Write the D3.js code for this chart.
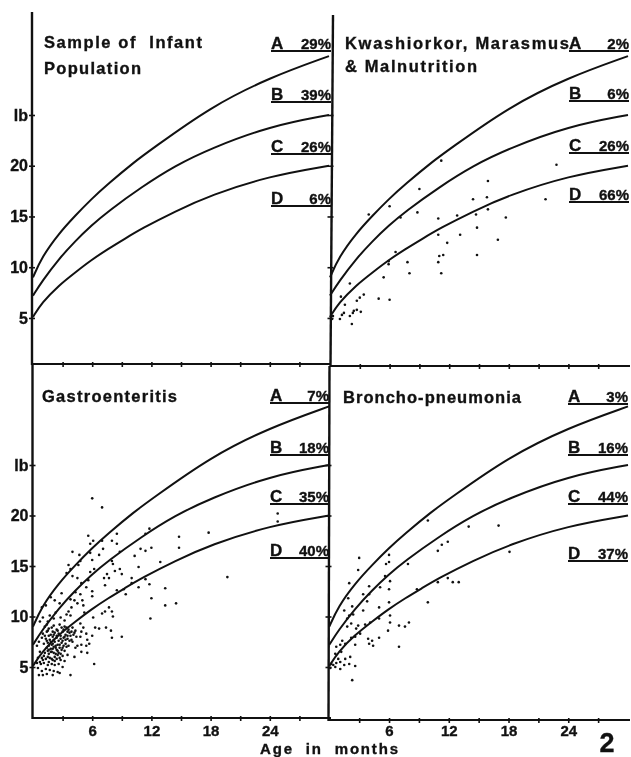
<!DOCTYPE html>
<html>
<head>
<meta charset="utf-8">
<script src="https://cdn.jsdelivr.net/npm/d3@7"></script>
<style>
  html, body { margin: 0; padding: 0; background: #fff; }
  svg { display: block; filter: blur(0.55px); }
  text { font-family: "Liberation Sans", Arial, sans-serif; font-weight: bold; fill: #111; stroke: #111; stroke-width: 0.35px; }
</style>
</head>
<body>
<div id="chart"></div>
<script>
/* weight-for-age charts, four panels sharing the same reference curves */

const GROUPS = ['A', 'B', 'C', 'D'];

// reference curves, [age in months, weight in lb]
const CURVE_A = [[0, 9.0], [0.9, 11.0], [2.6, 13.3], [4.3, 15.1], [5.9, 16.7], [7.6, 18.2], [10.3, 20.4], [12, 21.6], [18, 25.8], [24, 28.7], [30, 30.8]];
const CURVE_B = [[0, 7.2], [0.9, 8.6], [2.6, 10.8], [4.3, 12.6], [5.9, 14.1], [7.6, 15.5], [11, 17.9], [14.4, 20.0], [18, 21.7], [24, 23.9], [30, 25.0]];
const CURVE_C = [[0, 5.1], [0.9, 6.5], [2.6, 8.2], [4.3, 9.5], [5.9, 10.7], [7.6, 11.8], [9.3, 12.8], [11, 13.8], [14.4, 15.5], [18, 17.1], [24, 19.0], [30, 20.0]];
const CURVES = [CURVE_A, CURVE_B, CURVE_C];

const TITLES_POP = ['Sample of  Infant', 'Population'];
const TITLES_KWA = ['Kwashiorkor, Marasmus', '& Malnutrition'];
const TITLES_GAS = ['Gastroenteritis'];
const TITLES_BRO = ['Broncho-pneumonia'];

const PCT_POP = ['29%', '39%', '26%', '6%'];
const PCT_KWA = ['2%', '6%', '26%', '66%'];
const PCT_GAS = ['7%', '18%', '35%', '40%'];
const PCT_BRO = ['3%', '16%', '44%', '37%'];

const WEIGHT_TICKS = [5, 10, 15, 20, 25];
const WEIGHT_LABELS = ['5', '10', '15', '20', 'lb'];
const AGE_TICKS = [3, 6, 9, 12, 15, 18, 21, 24, 27];
const AGE_LABELS = [6, 12, 18, 24];

const POINTS_POP = [];

const POINTS_KWA = [
  [11.2, 20.5], [22.8, 20.1], [15.9, 18.5], [9.0, 17.7], [14.4, 16.7], [15.8, 16.9], [21.7, 16.7], [6.0, 16.0],
  [3.9, 15.2], [8.8, 15.4], [7.1, 14.9], [10.9, 14.8], [12.8, 15.1], [14.7, 15.2], [15.9, 15.7], [17.7, 14.9],
  [14.8, 13.9], [10.9, 13.2], [13.1, 13.2], [16.9, 12.7], [11.8, 12.4], [6.6, 11.5], [5.9, 10.6], [5.9, 10.3],
  [7.8, 10.5], [10.9, 10.5], [11.0, 11.1], [11.4, 11.2], [14.8, 11.2], [8.0, 9.4], [11.2, 9.4], [5.4, 9.0],
  [2.0, 8.4], [1.1, 7.1], [3.4, 7.3], [3.0, 7.0], [2.7, 6.7], [4.9, 6.9], [6.0, 6.8], [1.5, 6.3],
  [2.7, 5.8], [2.4, 5.7], [3.1, 5.6], [1.4, 5.5], [1.2, 5.3], [2.3, 5.5], [2.0, 5.2], [1.0, 4.9],
  [2.2, 4.4], [0.3, 5.2], [0.2, 4.9]
];

const POINTS_GAS = [
  [6.0, 21.7], [7.0, 20.8], [24.8, 20.2], [24.8, 19.4], [11.8, 18.7], [8.5, 18.2], [17.8, 18.3], [5.6, 18.0],
  [11.4, 18.2], [14.8, 17.9], [6.1, 17.5], [7.0, 17.5], [8.0, 17.5], [8.5, 17.2], [5.8, 17.2], [14.8, 16.8],
  [12.0, 16.8], [10.9, 16.7], [11.4, 16.5], [7.1, 16.7], [4.0, 16.4], [8.8, 16.4], [5.8, 16.3], [6.7, 16.1],
  [4.7, 16.1], [10.3, 16.0], [6.0, 15.6], [4.8, 15.5], [8.0, 15.5], [12.9, 15.4], [3.6, 15.1], [4.6, 15.1],
  [10.7, 14.9], [8.1, 15.2], [6.2, 14.7], [3.8, 14.7], [3.4, 14.3], [8.3, 14.5], [8.8, 14.7], [9.0, 14.2],
  [5.8, 14.4], [7.5, 14.2], [4.0, 14.0], [4.5, 13.8], [10.0, 13.8], [11.4, 13.7], [7.2, 13.8], [7.7, 13.8],
  [5.6, 13.6], [4.9, 13.3], [7.3, 13.1], [10.0, 13.3], [11.8, 13.2], [13.4, 12.8], [10.7, 12.9], [5.4, 12.9],
  [6.0, 12.5], [8.5, 12.6], [9.2, 12.7], [9.4, 12.2], [2.9, 12.3], [4.3, 12.4], [4.8, 12.2], [1.8, 11.9],
  [2.2, 11.6], [12.0, 11.8], [3.8, 11.7], [4.2, 11.6], [6.0, 12.0], [5.0, 11.6], [4.5, 11.3], [2.7, 11.3],
  [1.3, 11.1], [13.4, 11.1], [14.5, 11.3], [5.1, 11.1], [3.9, 10.9], [7.7, 10.9], [5.2, 10.4], [3.6, 10.5],
  [7.3, 10.5], [8.0, 10.5], [1.7, 10.1], [3.8, 10.1], [7.0, 10.3], [6.1, 9.9], [8.1, 10.0], [11.9, 9.8],
  [2.1, 9.8], [3.2, 9.6], [0.7, 9.5], [19.7, 13.9], [4.8, 9.3], [5.1, 8.9], [6.3, 8.9], [6.7, 8.8],
  [7.4, 8.9], [7.9, 8.6], [8.0, 7.9], [9.0, 8.0], [6.0, 8.1], [4.9, 8.5], [5.4, 8.3], [4.8, 8.0],
  [5.5, 7.7], [5.7, 7.3], [5.4, 7.1], [4.5, 7.1], [4.9, 7.2], [4.3, 6.9], [5.5, 6.4], [4.9, 6.5],
  [6.2, 5.3], [3.8, 4.2], [2.7, 4.4],
  [1.2, 9.0], [1.6, 8.8], [2.1, 9.1], [2.4, 8.7], [2.9, 8.9], [3.2, 9.0], [3.6, 8.7], [4.0, 8.9], [4.3, 8.6],
  [1.0, 8.3], [1.4, 8.5], [1.8, 8.2], [2.2, 8.4], [2.6, 8.3], [3.0, 8.5], [3.3, 8.2], [3.7, 8.4], [4.1, 8.2], [4.4, 8.0],
  [0.9, 7.9], [1.3, 7.8], [1.7, 7.7], [2.0, 8.0], [2.4, 7.9], [2.8, 7.8], [3.1, 7.9], [3.5, 7.8], [3.9, 7.7],
  [1.1, 7.3], [1.5, 7.4], [1.9, 7.2], [2.2, 7.5], [2.5, 7.2], [2.9, 7.4], [3.3, 7.3], [3.6, 7.1],
  [1.4, 6.9], [1.8, 6.8], [2.1, 7.0], [2.4, 6.7], [2.7, 6.9], [3.2, 6.6],
  [0.7, 6.5], [1.2, 6.4], [1.6, 6.3], [1.9, 6.5], [2.3, 6.3], [2.6, 6.4], [3.0, 6.1], [3.5, 6.2], [4.2, 6.0],
  [0.5, 5.9], [0.9, 5.9], [1.3, 5.8], [1.7, 5.9], [2.0, 5.7], [2.4, 5.8], [2.8, 5.7], [3.2, 5.6],
  [0.4, 5.4], [0.8, 5.3], [1.1, 5.4], [1.5, 5.2], [1.9, 5.3], [2.2, 5.2], [2.6, 5.3], [3.0, 5.0],
  [0.5, 4.9], [0.9, 4.6], [1.3, 4.8], [1.7, 4.7], [2.1, 4.6], [2.5, 4.5],
  [0.6, 4.2], [1.0, 4.2], [1.4, 4.3], [2.0, 4.2],
  [0.4, 7.1], [0.6, 7.5], [1.0, 9.9], [1.5, 9.5], [2.3, 10.4], [2.8, 9.9], [3.4, 10.2], [0.9, 10.9],
  // the dark clump at one to four months
  [1.4, 9.2], [1.9, 8.9], [2.7, 9.2], [3.4, 8.9], [1.5, 8.6], [2.0, 8.5], [2.5, 8.6], [3.1, 8.7], [3.5, 8.5], [3.9, 8.5],
  [1.2, 8.1], [1.6, 8.1], [2.1, 8.2], [2.4, 8.1], [2.8, 8.1], [3.2, 8.0], [3.5, 8.1], [3.8, 8.1], [4.2, 8.4],
  [1.4, 7.6], [1.8, 7.5], [2.1, 7.7], [2.6, 7.6], [3.0, 7.6], [3.3, 7.7], [3.7, 7.6], [4.0, 7.5], [1.6, 7.1], [2.0, 7.3],
  [2.3, 7.1], [2.7, 7.2], [3.1, 7.1], [3.4, 7.0], [1.6, 6.7], [2.0, 6.8], [2.3, 6.9], [2.5, 6.6], [2.9, 6.7], [3.0, 6.9],
  [1.5, 6.6], [1.8, 6.5], [2.1, 6.4], [2.5, 6.2], [2.8, 6.3], [1.1, 6.1], [1.5, 6.0], [2.2, 6.0], [2.7, 5.9], [1.0, 5.7],
  [1.9, 5.8], [2.2, 5.6], [0.7, 5.5], [1.6, 5.5]
];

const POINTS_BRO = [
  [17.0, 19.0], [14.0, 18.9], [9.9, 19.5], [11.9, 17.4], [11.3, 17.1], [10.9, 16.5], [3.0, 15.8], [6.0, 16.1],
  [6.0, 15.4], [5.7, 15.2], [2.9, 14.6], [7.9, 15.2], [5.6, 14.0], [6.1, 13.5], [2.0, 13.3], [4.0, 13.0],
  [5.1, 12.9], [6.0, 12.7], [8.8, 12.7], [10.9, 13.4], [11.9, 13.8], [12.4, 13.4], [13.0, 13.4], [18.1, 16.4],
  [3.4, 12.2], [4.0, 12.2], [1.9, 11.8], [3.8, 11.5], [6.0, 11.4], [9.9, 11.4], [2.3, 11.0], [5.0, 10.9],
  [1.5, 10.6], [3.4, 10.6], [2.4, 10.2], [2.0, 10.1], [6.1, 10.1], [1.8, 9.8], [5.0, 9.8], [6.1, 9.4],
  [2.2, 9.3], [4.1, 9.4], [3.6, 9.2], [2.9, 9.1], [7.0, 9.1], [7.6, 9.0], [8.0, 9.4], [5.9, 8.6],
  [2.7, 8.8], [1.8, 9.0], [3.1, 8.3], [2.6, 8.0], [2.2, 7.9], [3.9, 7.8], [4.3, 7.6], [5.0, 7.9],
  [4.0, 7.3], [4.4, 7.1], [7.0, 7.0], [2.6, 7.2], [1.3, 7.6], [1.1, 7.2], [1.6, 7.3], [0.7, 7.0],
  [0.6, 6.3], [2.1, 6.0], [1.6, 5.8], [2.0, 5.3], [2.6, 5.1], [1.1, 5.5], [0.7, 5.4], [0.4, 5.2],
  [0.1, 4.9], [1.1, 4.8], [1.5, 5.2], [2.3, 3.7], [0.2, 5.3], [0.6, 5.0], [0.9, 5.8], [1.2, 6.5]
];

// page geometry of each panel, kept apart from the values above
const LAYOUT = [
  { left: 33, right: 329, y0: 368.7, y35: 13.5, base: 364, top: 12, spine: 32, spineTop: 32, yLabels: true, xLabels: false,
    titleX: 44, titleY: [48, 74], titleW: [158, 97], keyX: 271, keyEnd: 331, keyY: [51, 102, 154, 206] },
  { left: 330, right: 628, y0: 368.7, y35: 13.5, base: 366, top: 15, spine: 330.5, spineTop: 333, yLabels: false, xLabels: false,
    titleX: 345, titleY: [49, 72], titleW: [224, 132], keyX: 569, keyEnd: 629, keyY: [51, 101, 153, 202] },
  { left: 33, right: 329, y0: 717.5, y35: 364, base: 718, top: 365, spine: 32.5, spineTop: 32.5, yLabels: true, xLabels: true,
    titleX: 42, titleY: [402], titleW: [135], keyX: 270, keyEnd: 329, keyY: [403, 455, 504, 558] },
  { left: 329.3, right: 628, y0: 717.5, y35: 364, base: 720, top: 366, spine: 328.5, spineTop: 329.5, yLabels: false, xLabels: true,
    titleX: 343, titleY: [403], titleW: [178], keyX: 568, keyEnd: 628, keyY: [404, 455, 504, 561] }
];

const PANEL_TITLES = [TITLES_POP, TITLES_KWA, TITLES_GAS, TITLES_BRO];
const PANEL_PCT = [PCT_POP, PCT_KWA, PCT_GAS, PCT_BRO];
const PANEL_POINTS = [POINTS_POP, POINTS_KWA, POINTS_GAS, POINTS_BRO];

const INK = '#111';
const svg = d3.select('#chart').append('svg').attr('width', 631).attr('height', 757);

const curveLine = d3.line().curve(d3.curveBasis);

LAYOUT.forEach((p, i) => {
  const g = svg.append('g').attr('class', 'panel');
  const x = d3.scaleLinear().domain([0, 30]).range([p.left, p.right]);
  const y = d3.scaleLinear().domain([0, 35]).range([p.y0, p.y35]);

  // spines
  g.append('line').attr('x1', p.spine).attr('x2', p.spineTop).attr('y1', p.base + 1).attr('y2', p.top)
    .attr('stroke', INK).attr('stroke-width', 2.4);
  g.append('line').attr('x1', p.spine).attr('x2', p.right + 2).attr('y1', p.base).attr('y2', p.base)
    .attr('stroke', INK).attr('stroke-width', 2.2);

  // axes, domain paths are replaced by the spines above
  const yAxis = d3.axisLeft(y).tickValues(WEIGHT_TICKS)
    .tickSize(3)
    .tickFormat((d, k) => (p.yLabels ? WEIGHT_LABELS[k] : ''));
  const yG = g.append('g').attr('transform', `translate(${p.spine},0)`).call(yAxis);
  yG.select('.domain').remove();
  yG.selectAll('.tick line').attr('x2', 3).attr('x1', -3).attr('stroke', INK).attr('stroke-width', 1.6);
  yG.selectAll('.tick text').attr('x', -4).attr('font-size', 16);

  const xAxis = d3.axisBottom(x).tickValues(AGE_TICKS)
    .tickSize(3)
    .tickFormat((d) => (p.xLabels && AGE_LABELS.includes(d) ? d : ''));
  const xG = g.append('g').attr('transform', `translate(0,${p.base})`).call(xAxis);
  xG.select('.domain').remove();
  xG.selectAll('.tick line').attr('y1', -2).attr('y2', 3).attr('stroke', INK).attr('stroke-width', 1.6);
  xG.selectAll('.tick text').attr('y', 725 - p.base).attr('font-size', 15);

  // curves
  g.selectAll('path.curve').data(CURVES).join('path').attr('class', 'curve')
    .attr('d', (d) => curveLine(d.map((c) => [x(c[0]), y(c[1])])))
    .attr('fill', 'none').attr('stroke', INK).attr('stroke-width', 2);

  // cases
  g.selectAll('circle').data(PANEL_POINTS[i]).join('circle')
    .attr('cx', (d) => x(d[0])).attr('cy', (d) => y(d[1])).attr('r', 1.3).attr('fill', INK);

  // title
  g.selectAll('text.title').data(PANEL_TITLES[i]).join('text').attr('class', 'title')
    .attr('x', p.titleX).attr('y', (d, k) => p.titleY[k])
    .attr('font-size', 16.5).attr('textLength', (d, k) => p.titleW[k]).attr('lengthAdjust', 'spacing')
    .style('white-space', 'pre').text((d) => d);

  // percent key
  GROUPS.forEach((grp, k) => {
    g.append('line').attr('x1', p.keyX).attr('x2', p.keyEnd).attr('y1', p.keyY[k]).attr('y2', p.keyY[k])
      .attr('stroke', INK).attr('stroke-width', 1.8);
    g.append('text').attr('x', p.keyX).attr('y', p.keyY[k] - 2).attr('font-size', 17).text(grp);
    g.append('text').attr('x', p.keyEnd).attr('y', p.keyY[k] - 2).attr('font-size', 15)
      .attr('text-anchor', 'end').text(PANEL_PCT[i][k]);
  });
});

svg.append('text').attr('x', 329).attr('y', 754).attr('text-anchor', 'middle')
  .attr('font-size', 15).attr('textLength', 138).style('white-space', 'pre').text('Age  in  months');
svg.append('text').attr('x', 607).attr('y', 752).attr('text-anchor', 'middle')
  .attr('font-size', 27).text('2');
</script>
</body>
</html>
